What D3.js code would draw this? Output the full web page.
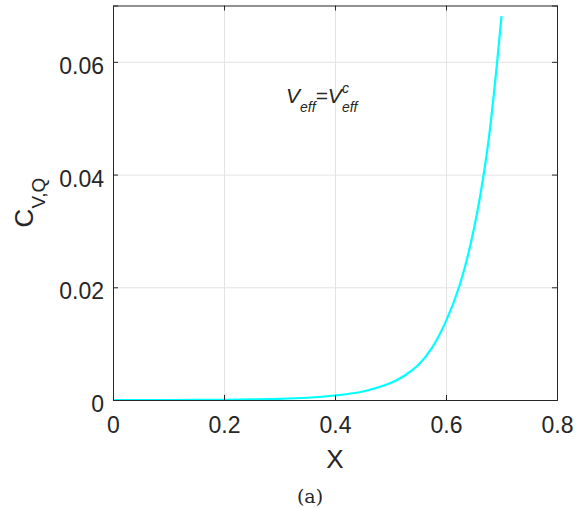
<!DOCTYPE html>
<html>
<head>
<meta charset="utf-8">
<script src="https://cdn.jsdelivr.net/npm/d3@7"></script>
<style>
  body { margin: 0; background: #fff; }
  text { fill: #262626; }
</style>
</head>
<body>
<svg id="chart" width="578" height="508"></svg>
<script>
// curve
const xVals = [0, 0.05, 0.1, 0.15, 0.2, 0.25, 0.3, 0.35, 0.4, 0.45, 0.5, 0.525, 0.55, 0.575, 0.6, 0.625, 0.65, 0.675, 0.7];
const cVals = [0, 0, 0, 0.00001, 0.00003, 0.0001, 0.0002, 0.0004, 0.0008, 0.0015, 0.003, 0.0043, 0.0062, 0.0093, 0.014, 0.0205, 0.0302, 0.0448, 0.0681];
const xTicks = [0, 0.2, 0.4, 0.6, 0.8];
const yTicks = [0, 0.02, 0.04, 0.06];

const padL = 113, padR = 557, padT = 5.5, padB = 400;
const sans = "'Liberation Sans', Arial, sans-serif";
const svg = d3.select("#chart");

const x = d3.scaleLinear().domain([0, 0.8]).range([padL, padR]);
const y = d3.scaleLinear().domain([0, 0.07]).range([padB, padT]);

// grid
svg.append("g")
    .attr("class", "grid")
    .attr("transform", "translate(0," + padB + ")")
    .call(d3.axisBottom(x).tickValues(xTicks.slice(1, -1)).tickSize(-(padB - padT)).tickFormat(""));
svg.append("g")
    .attr("class", "grid")
    .attr("transform", "translate(" + padL + ",0)")
    .call(d3.axisLeft(y).tickValues(yTicks.slice(1)).tickSize(-(padR - padL)).tickFormat(""));
svg.selectAll(".grid .domain").remove();
svg.selectAll(".grid line").attr("stroke", "#e3e3e3");

// curve
const line = d3.line()
    .x((d, i) => x(xVals[i]))
    .y(d => y(d))
    .curve(d3.curveCatmullRom.alpha(0.5));
svg.append("path")
    .datum(cVals)
    .attr("d", line)
    .attr("fill", "none")
    .attr("stroke", "#00ffff")
    .attr("stroke-width", 2.2);

// axes with inward ticks, box on
const fmt = d => d === 0 ? "0" : d3.format(".1f")(d);
const fmtY = d => d === 0 ? "0" : d3.format(".2f")(d);
const xAxis = svg.append("g")
    .attr("class", "ax")
    .attr("transform", "translate(0," + padB + ")")
    .call(d3.axisBottom(x).tickValues(xTicks).tickSize(-5).tickFormat(fmt));
xAxis.selectAll("text").attr("y", 17).attr("dy", "0.71em");
const yAxis = svg.append("g")
    .attr("class", "ax")
    .attr("transform", "translate(" + padL + ",0)")
    .call(d3.axisLeft(y).tickValues(yTicks).tickSize(-5).tickFormat(fmtY));
yAxis.selectAll("text").attr("x", -9).attr("dy", "0.5em");
svg.append("g")
    .attr("class", "ax")
    .attr("transform", "translate(0," + padT + ")")
    .call(d3.axisTop(x).tickValues(xTicks).tickSize(-5).tickFormat(""));
svg.append("g")
    .attr("class", "ax")
    .attr("transform", "translate(" + padR + ",0)")
    .call(d3.axisRight(y).tickValues(yTicks).tickSize(-5).tickFormat(""));
svg.selectAll(".ax").attr("font-family", sans).attr("font-size", 23);
svg.selectAll(".ax .domain").attr("stroke", "#262626").attr("stroke-width", 1);
svg.selectAll(".ax line").attr("stroke", "#262626");
svg.selectAll(".ax text").attr("fill", "#262626");

// labels
svg.append("text")
    .attr("x", (padL + padR) / 2).attr("y", 468)
    .attr("text-anchor", "middle")
    .style("font-family", sans).style("font-size", "26px")
    .text("X");

const yl = svg.append("text")
    .attr("transform", "translate(33,202.5) rotate(-90)")
    .attr("text-anchor", "middle")
    .style("font-family", sans);
yl.append("tspan").style("font-size", "26px").text("C");
yl.append("tspan").style("font-size", "19px").attr("dy", 12).text("V,Q");

const ann = svg.append("text")
    .attr("x", 286).attr("y", 103)
    .style("font-family", sans)
    .style("font-style", "italic");
ann.append("tspan").style("font-size", "21px").text("V");
ann.append("tspan").style("font-size", "14px").attr("dy", 9).text("eff");
ann.append("tspan").style("font-size", "21px").attr("dy", -9).text("=V");
ann.append("tspan").style("font-size", "14px").attr("dy", -10).text("c");
ann.append("tspan").style("font-size", "14px").attr("dy", 19).attr("dx", -7).text("eff");

svg.append("text")
    .attr("x", 310).attr("y", 503)
    .attr("text-anchor", "middle")
    .style("font-family", "'DejaVu Serif', 'Liberation Serif', serif")
    .style("font-size", "19px")
    .text("(a)");
</script>
</body>
</html>
